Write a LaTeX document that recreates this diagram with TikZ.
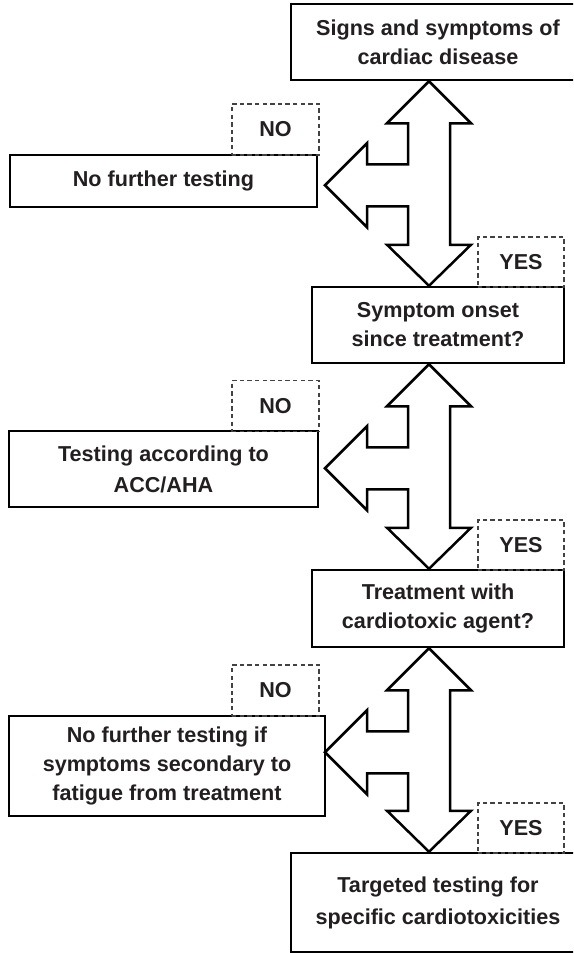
\documentclass[tikz,border=0pt]{standalone}
\usepackage{fontspec}
\setmainfont{Liberation Sans}
\usetikzlibrary{calc}
\definecolor{ink}{HTML}{231F20}
\tikzset{
  box/.style={draw=black, line width=1.25pt, fill=white, align=center,
    inner sep=0pt, text=ink,
    font=\fontsize{10.8}{14.5}\selectfont\bfseries},
  tag/.style={draw=ink!85, dash pattern=on 2.2pt off 1.6pt, line width=0.55pt,
    inner sep=0pt, minimum width=43.5pt, minimum height=25.5pt, text=ink,
    font=\fontsize{10.8}{14.5}\selectfont\bfseries},
  blockarrow/.style={draw=black, line width=1.25pt, fill=white, line join=miter}
}
% Two-way block arrow between top tip (#1) and bottom tip (#2),
% with a side branch pointing left from the shaft.
\newcommand\twowayarrow[2]{%
  \draw[blockarrow]
    (#1) -- ($(#1)+(42,42)$) -- ($(#1)+(21,42)$)
    -- ($(#2)+(21,-41)$) -- ($(#2)+(42,-41)$) -- (#2)
    -- ($(#2)+(-42,-41)$) -- ($(#2)+(-21,-41)$)
    -- ($(#1)+(-21,125)$) -- ($(#1)+(-62,125)$) -- ($(#1)+(-62,146)$)
    -- ($(#1)+(-104,104)$)
    -- ($(#1)+(-62,62)$) -- ($(#1)+(-62,83)$) -- ($(#1)+(-21,83)$)
    -- ($(#1)+(-21,42)$) -- ($(#1)+(-42,42)$) -- cycle;}
\begin{document}
\begin{tikzpicture}[x=0.5pt, y=-0.5pt]
  \useasboundingbox (0,0) rectangle (573,953);
  \clip (0,0) rectangle (573,953);
  \fill[white] (0,0) rectangle (573,953);
  \coordinate (axis) at (429,0);

  % main column
  \node[box, minimum width=147pt, minimum height=38pt] (b1) at (438,42)
    {Signs and symptoms of\\cardiac disease};
  \node[box, minimum width=126pt, minimum height=38pt] (b2) at (438,325)
    {Symptom onset\\since treatment?};
  \node[box, minimum width=126pt, minimum height=38.5pt] (b3) at (438,608.5)
    {Treatment with\\cardiotoxic agent?};
  \node[box, minimum width=147pt, minimum height=49.5pt,
        font=\fontsize{10.8}{16}\selectfont\bfseries] (b4) at (438,902.5)
    {Targeted testing for\\specific cardiotoxicities};

  % side outcomes
  \node[box, minimum width=153.5pt, minimum height=26pt] (l1) at (163.5,181)
    {No further testing};
  \node[box, minimum width=154.5pt, minimum height=38pt,
        font=\fontsize{10.8}{15.5}\selectfont\bfseries] (l2) at (163.5,469)
    {Testing according to\\ACC/AHA};
  \node[box, minimum width=158pt, minimum height=50pt] (l3) at (167,766)
    {No further testing if\\symptoms secondary to\\fatigue from treatment};

  % answer tags
  \node[tag] (n1) at (275.5,129.5) {NO};
  \node[tag] (n2) at (275.5,406) {NO};
  \node[tag] (n3) at (275.5,690.5) {NO};
  \node[tag, minimum width=43pt, minimum height=25pt] (y1) at (521,262) {YES};
  \node[tag, minimum width=43pt, minimum height=25pt] (y2) at (521,545) {YES};
  \node[tag, minimum width=43pt, minimum height=25pt] (y3) at (521,828) {YES};

  % block arrows
  \coordinate (t1) at (b1.south -| axis);
  \coordinate (s1) at (b2.north -| axis);
  \twowayarrow{t1}{s1}
  \coordinate (t2) at (b2.south -| axis);
  \coordinate (s2) at (b3.north -| axis);
  \twowayarrow{t2}{s2}
  \coordinate (t3) at (b3.south -| axis);
  \coordinate (s3) at (b4.north -| axis);
  \twowayarrow{t3}{s3}
\end{tikzpicture}
\end{document}
